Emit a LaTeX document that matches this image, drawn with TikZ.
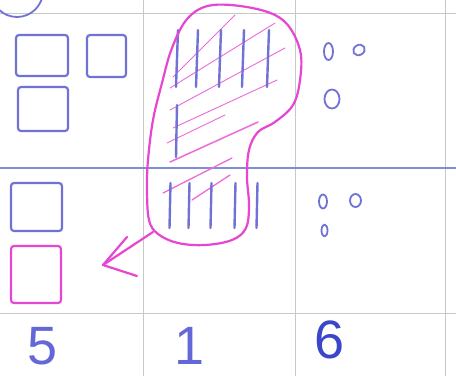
\documentclass[tikz,border=0pt]{standalone}
\usepackage{fontspec}
\setmainfont{Liberation Sans}
\usetikzlibrary{shapes.geometric}
\begin{document}
\begin{tikzpicture}[x=1pt,y=-1pt,
  bluepen/.style={draw=inkblue,line width=2.2pt,line cap=round,line join=round},
  pinkpen/.style={draw=inkpink,line width=2.2pt,line cap=round,line join=round},
  hatch/.style={draw=inkpink!80,line width=0.9pt,line cap=round},
  gridline/.style={draw=gridgrey,line width=0.8pt},
  boxshape/.style={rectangle,rounded corners=3pt,inner sep=0pt},
  bluebox/.style={boxshape,bluepen},
  pinkbox/.style={boxshape,pinkpen},
  tally/.style={bluepen,line width=2.4pt},
  dot/.style={ellipse,bluepen,line width=1.8pt,inner sep=0pt},
  digit/.style={text=digitblue,font=\fontsize{54}{54}\selectfont,inner sep=0pt,anchor=base}
]
\definecolor{inkblue}{RGB}{112,114,214}
\definecolor{digitblue}{RGB}{100,104,214}
\definecolor{darkdigit}{RGB}{60,70,200}
\definecolor{inkpink}{RGB}{230,70,210}
\definecolor{gridgrey}{RGB}{200,200,200}
\definecolor{ruleblue}{RGB}{128,140,215}
\useasboundingbox (0,0) rectangle (456,376);
\fill[white] (0,0) rectangle (456,376);
% grid
\draw[gridline] (143,0) -- (143,376);
\draw[gridline] (295,0) -- (295,376);
\draw[gridline] (445,0) -- (445,376);
\draw[gridline] (0,13) -- (456,13);
\draw[gridline] (0,313) -- (456,313);
\draw[draw=ruleblue,line width=1.6pt] (0,168) -- (456,168);
% partial circle top-left
\begin{scope}
\clip (0,0) rectangle (456,376);
\draw[bluepen,line width=1.8pt] (17,-9) circle (26);
\end{scope}
% squares
\node[bluebox,minimum width=52pt,minimum height=41pt] (sq1) at (42,55.5) {};
\node[bluebox,minimum width=39pt,minimum height=42pt] (sq2) at (106.5,56) {};
\node[bluebox,minimum width=50pt,minimum height=44pt] (sq3) at (43,109) {};
\node[bluebox,minimum width=51pt,minimum height=48pt] (sq4) at (36.5,207) {};
\node[pinkbox,minimum width=50pt,minimum height=57pt] (psq) at (36,274.5) {};
% hatch lines
\draw[hatch] (173,77) -- (235,15);
\draw[hatch] (170,88) -- (275,23);
\draw[hatch] (170,110) -- (285,48);
\draw[hatch] (173,128) -- (277,80);
\draw[hatch] (167,143) -- (225,115);
\draw[hatch,line width=1.5pt] (170,162) -- (258,122);
\draw[hatch,line width=1.3pt] (163,193) -- (232,158);
\draw[hatch,line width=1.3pt] (192,200) -- (230,175);
% tallies
\foreach \x in {177,197,220,243,268}{
  \draw[tally] (\x-1,87) -- (\x+1,30);
}
\draw[tally] (176,157) -- (177,105);
\foreach \x in {170,189,211,235,257}{
  \draw[tally] (\x-0.5,228) -- (\x+0.5,183);
}
% blob
\draw[pinkpen] plot[smooth cycle,tension=0.6] coordinates {
  (213,5) (257,9) (285,22) (300,50) (300,80) (293,105) (275,122) (258,132)
  (249,150) (247,177) (249,205) (246,228) (232,240) (205,245) (178,243)
  (158,234) (149,220) (147,190) (148,160) (153,120) (162,83) (172,48) (188,18)};
% arrow
\coordinate (astart) at (153,232);
\coordinate (atip) at (103,265);
\coordinate (arm1) at (127,237);
\coordinate (arm2) at (137,276);
\draw[pinkpen] (astart) -- (atip);
\draw[pinkpen] (arm1) -- (atip) -- (arm2);
% small circles
\node[dot,minimum width=9pt,minimum height=17pt] (o1) at (328.5,51.5) {};
\node[dot,minimum width=12pt,minimum height=10pt,rotate=30] (o2) at (359,50) {};
\node[dot,minimum width=15pt,minimum height=19pt] (o3) at (332,99) {};
\node[dot,minimum width=8pt,minimum height=14pt] (o4) at (323,201.5) {};
\node[dot,minimum width=11pt,minimum height=13pt] (o5) at (355.5,200.5) {};
\node[dot,minimum width=6pt,minimum height=12pt] (o6) at (324.5,230.5) {};
% digits
\node[digit] (d5) at (43,364) {5};
\node[digit] (d1) at (190,364) {1};
\node[digit,text=darkdigit] (d6) at (330,358) {6};
\end{tikzpicture}
\end{document}
